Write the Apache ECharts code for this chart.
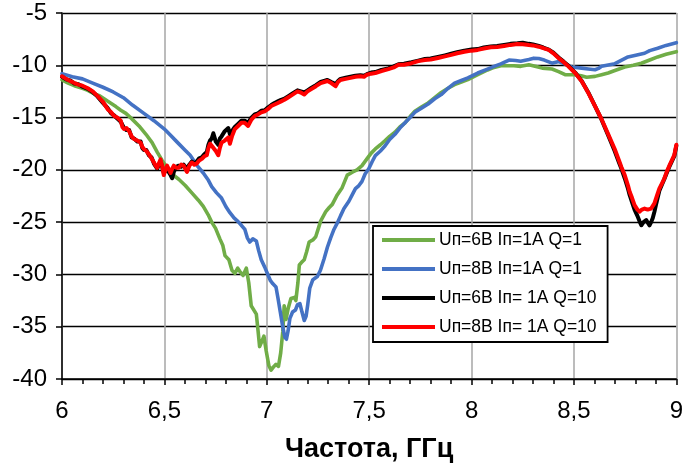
<!DOCTYPE html>
<html>
<head>
<meta charset="utf-8">
<script src="https://cdn.jsdelivr.net/npm/echarts@6/dist/echarts.min.js"></script>
<style>html,body{margin:0;padding:0;background:#fff}#c{width:686px;height:468px}</style>
</head>
<body>
<div id="c"></div>
<script>
const seriesNames = ['Uп=6В Iп=1А Q=1', 'Uп=8В Iп=1А Q=1', 'Uп=6В Iп= 1А Q=10', 'Uп=8В Iп= 1А Q=10'];
const xTicks = [6, 6.5, 7, 7.5, 8, 8.5, 9];
const yTicks = [-40, -35, -30, -25, -20, -15, -10, -5];

const greenData = [[6.0,-11.4],[6.03,-11.7],[6.06,-11.95],[6.1,-12.2],[6.126,-12.4],[6.16,-12.75],[6.183,-12.9],[6.22,-13.4],[6.263,-13.95],[6.287,-14.3],[6.312,-14.6],[6.34,-15.1],[6.376,-15.8],[6.41,-16.6],[6.44,-17.4],[6.465,-18.3],[6.489,-19.1],[6.51,-19.7],[6.537,-20.4],[6.57,-20.9],[6.602,-21.5],[6.634,-22.2],[6.666,-22.9],[6.69,-23.5],[6.714,-24.3],[6.731,-25.0],[6.75,-25.6],[6.771,-26.6],[6.785,-27.2],[6.796,-28.2],[6.815,-28.6],[6.83,-29.6],[6.844,-29.9],[6.858,-29.4],[6.868,-29.7],[6.884,-30.1],[6.9,-29.4],[6.912,-30.8],[6.924,-33.0],[6.949,-33.8],[6.958,-35.5],[6.965,-36.9],[6.976,-36.4],[6.986,-35.9],[6.997,-37.3],[7.01,-38.7],[7.021,-39.15],[7.035,-38.8],[7.045,-38.6],[7.057,-38.8],[7.068,-37.5],[7.078,-35.5],[7.085,-33.0],[7.094,-34.3],[7.105,-33.2],[7.118,-32.3],[7.135,-32.2],[7.142,-32.5],[7.152,-30.8],[7.159,-29.1],[7.172,-28.8],[7.183,-28.6],[7.195,-27.8],[7.207,-26.9],[7.225,-26.7],[7.239,-26.4],[7.252,-25.6],[7.263,-24.9],[7.288,-24.0],[7.305,-23.6],[7.32,-23.3],[7.344,-22.4],[7.368,-21.7],[7.393,-20.5],[7.42,-20.2],[7.441,-20.0],[7.465,-19.6],[7.489,-18.95],[7.51,-18.4],[7.53,-18.0],[7.555,-17.6],[7.578,-17.2],[7.6,-16.8],[7.626,-16.4],[7.65,-15.9],[7.675,-15.5],[7.7,-14.9],[7.723,-14.4],[7.755,-14.0],[7.788,-13.6],[7.82,-13.1],[7.852,-12.6],[7.885,-12.2],[7.917,-11.85],[7.95,-11.6],[7.982,-11.37],[8.03,-10.9],[8.078,-10.45],[8.11,-10.2],[8.143,-10.05],[8.175,-10.05],[8.207,-10.05],[8.24,-10.1],[8.28,-9.95],[8.31,-10.1],[8.345,-10.27],[8.393,-10.36],[8.425,-10.6],[8.457,-10.9],[8.506,-10.9],[8.535,-11.0],[8.562,-11.15],[8.603,-11.06],[8.635,-10.9],[8.667,-10.74],[8.7,-10.5],[8.748,-10.17],[8.79,-10.0],[8.829,-9.8],[8.87,-9.5],[8.909,-9.2],[8.95,-8.95],[9.0,-8.7]];

const blueData = [[6.0,-10.8],[6.05,-11.1],[6.1,-11.3],[6.15,-11.7],[6.2,-12.1],[6.25,-12.55],[6.3,-13.1],[6.344,-13.8],[6.4,-14.6],[6.449,-15.3],[6.5,-16.1],[6.53,-16.7],[6.56,-17.3],[6.6,-18.1],[6.626,-18.6],[6.66,-19.6],[6.69,-20.3],[6.715,-21.0],[6.731,-21.6],[6.755,-22.2],[6.779,-22.7],[6.8,-23.5],[6.82,-24.1],[6.84,-24.6],[6.86,-24.95],[6.876,-25.3],[6.893,-25.7],[6.905,-26.5],[6.917,-26.9],[6.932,-26.6],[6.949,-26.8],[6.96,-27.7],[6.973,-28.6],[6.99,-29.3],[7.005,-30.0],[7.018,-30.6],[7.03,-30.9],[7.045,-31.2],[7.055,-32.3],[7.066,-33.6],[7.078,-35.0],[7.088,-36.0],[7.096,-36.2],[7.104,-35.4],[7.113,-34.2],[7.126,-33.6],[7.14,-33.4],[7.15,-32.9],[7.162,-32.8],[7.172,-33.6],[7.183,-34.4],[7.192,-34.0],[7.2,-32.9],[7.21,-31.3],[7.225,-30.5],[7.247,-30.2],[7.262,-29.6],[7.28,-28.5],[7.296,-27.4],[7.312,-26.5],[7.328,-25.7],[7.344,-25.1],[7.36,-24.4],[7.377,-23.7],[7.401,-23.0],[7.417,-22.4],[7.433,-21.8],[7.45,-21.5],[7.465,-21.1],[7.48,-20.4],[7.498,-19.9],[7.515,-19.2],[7.53,-18.64],[7.555,-18.2],[7.578,-17.7],[7.6,-17.1],[7.626,-16.6],[7.65,-16.0],[7.675,-15.5],[7.7,-15.0],[7.723,-14.5],[7.755,-14.1],[7.788,-13.7],[7.82,-13.2],[7.852,-12.8],[7.885,-12.2],[7.917,-11.7],[7.95,-11.45],[7.982,-11.2],[8.03,-10.74],[8.078,-10.36],[8.11,-10.1],[8.143,-9.86],[8.183,-9.5],[8.215,-9.55],[8.24,-9.62],[8.28,-9.45],[8.304,-9.32],[8.328,-9.35],[8.355,-9.5],[8.393,-9.8],[8.425,-9.64],[8.46,-9.9],[8.49,-10.17],[8.538,-10.27],[8.57,-10.35],[8.603,-10.43],[8.62,-10.3],[8.635,-10.1],[8.7,-9.85],[8.764,-9.2],[8.845,-8.85],[8.87,-8.6],[8.909,-8.37],[8.95,-8.1],[9.0,-7.84]];

const blackData = [[6.0,-11.1],[6.02,-11.35],[6.04,-11.45],[6.061,-11.75],[6.08,-11.8],[6.1,-12.05],[6.126,-12.25],[6.15,-12.55],[6.174,-13.0],[6.2,-13.6],[6.223,-14.1],[6.24,-14.6],[6.255,-14.8],[6.27,-15.1],[6.287,-15.4],[6.295,-15.7],[6.303,-16.0],[6.315,-16.2],[6.328,-16.2],[6.34,-16.9],[6.352,-17.0],[6.368,-17.3],[6.384,-17.3],[6.392,-17.9],[6.4,-18.1],[6.412,-18.1],[6.424,-18.6],[6.437,-18.8],[6.449,-19.4],[6.457,-19.5],[6.465,-19.9],[6.473,-19.5],[6.481,-19.2],[6.489,-19.7],[6.497,-20.3],[6.505,-20.1],[6.513,-19.8],[6.521,-20.2],[6.53,-20.5],[6.538,-20.8],[6.546,-20.2],[6.558,-19.7],[6.57,-19.6],[6.582,-19.7],[6.594,-19.5],[6.602,-19.7],[6.61,-19.9],[6.622,-19.5],[6.634,-19.2],[6.646,-19.4],[6.658,-19.2],[6.67,-18.9],[6.683,-18.8],[6.695,-18.5],[6.707,-18.3],[6.715,-17.6],[6.723,-17.2],[6.731,-17.0],[6.739,-16.5],[6.751,-17.3],[6.763,-17.6],[6.771,-17.0],[6.779,-16.8],[6.795,-16.3],[6.812,-16.0],[6.82,-16.6],[6.83,-16.3],[6.844,-15.9],[6.86,-15.6],[6.876,-15.3],[6.892,-15.3],[6.909,-15.5],[6.925,-15.0],[6.941,-14.7],[6.957,-14.6],[6.973,-14.35],[6.99,-14.3],[7.005,-14.05],[7.022,-13.8],[7.038,-13.6],[7.054,-13.45],[7.07,-13.3],[7.086,-13.2],[7.102,-13.0],[7.126,-12.7],[7.15,-12.4],[7.166,-12.5],[7.183,-12.6],[7.199,-12.4],[7.215,-12.2],[7.24,-11.9],[7.263,-11.6],[7.28,-11.5],[7.296,-11.4],[7.315,-11.6],[7.336,-11.8],[7.348,-11.5],[7.36,-11.3],[7.385,-11.2],[7.409,-11.1],[7.433,-11.0],[7.457,-10.95],[7.475,-11.0],[7.489,-10.85],[7.51,-10.7],[7.53,-10.65],[7.56,-10.45],[7.594,-10.3],[7.62,-10.1],[7.643,-9.9],[7.67,-9.85],[7.707,-9.7],[7.74,-9.55],[7.772,-9.4],[7.8,-9.35],[7.836,-9.2],[7.87,-9.05],[7.901,-8.9],[7.93,-8.75],[7.965,-8.6],[8.0,-8.5],[8.03,-8.45],[8.06,-8.3],[8.094,-8.2],[8.125,-8.15],[8.159,-8.05],[8.19,-7.95],[8.224,-7.9],[8.25,-7.85],[8.28,-7.95],[8.3,-8.0],[8.328,-8.15],[8.35,-8.3],[8.377,-8.5],[8.4,-8.8],[8.425,-9.25],[8.45,-9.65],[8.473,-10.05],[8.506,-10.7],[8.538,-11.5],[8.57,-12.6],[8.603,-13.9],[8.635,-15.2],[8.667,-16.7],[8.699,-18.2],[8.72,-19.3],[8.732,-19.9],[8.748,-20.8],[8.764,-21.8],[8.772,-22.4],[8.784,-23.1],[8.796,-23.8],[8.81,-24.4],[8.82,-24.9],[8.829,-25.3],[8.84,-25.0],[8.853,-24.8],[8.862,-25.1],[8.869,-25.3],[8.877,-25.0],[8.885,-24.6],[8.893,-24.0],[8.9,-23.4],[8.917,-22.0],[8.93,-21.4],[8.941,-20.9],[8.955,-20.2],[8.966,-19.7],[8.978,-19.2],[8.99,-18.7],[9.0,-17.7]];

const redData = [[6.0,-11.05],[6.02,-11.3],[6.04,-11.5],[6.061,-11.7],[6.08,-11.85],[6.1,-11.95],[6.126,-12.2],[6.15,-12.5],[6.174,-12.95],[6.2,-13.5],[6.223,-14.2],[6.24,-14.5],[6.255,-14.85],[6.27,-15.0],[6.287,-15.3],[6.295,-15.9],[6.303,-16.1],[6.315,-16.0],[6.328,-16.3],[6.34,-16.8],[6.352,-17.05],[6.368,-17.2],[6.384,-17.4],[6.392,-17.8],[6.4,-18.0],[6.412,-18.2],[6.424,-18.5],[6.437,-18.9],[6.449,-19.3],[6.457,-19.6],[6.465,-19.8],[6.473,-19.4],[6.481,-19.0],[6.489,-19.6],[6.497,-20.5],[6.505,-20.0],[6.513,-19.6],[6.521,-19.9],[6.53,-20.3],[6.538,-19.9],[6.546,-19.6],[6.558,-19.8],[6.57,-19.8],[6.582,-19.5],[6.594,-19.6],[6.602,-19.9],[6.61,-20.2],[6.622,-19.6],[6.634,-19.3],[6.646,-19.5],[6.658,-19.4],[6.67,-19.1],[6.683,-18.95],[6.695,-18.7],[6.707,-18.6],[6.715,-17.9],[6.723,-17.5],[6.731,-17.7],[6.739,-17.7],[6.751,-18.2],[6.763,-18.6],[6.771,-17.9],[6.779,-17.4],[6.795,-17.2],[6.812,-16.9],[6.82,-17.5],[6.83,-16.8],[6.844,-16.1],[6.86,-15.8],[6.876,-15.5],[6.892,-15.5],[6.909,-15.8],[6.925,-15.2],[6.941,-14.85],[6.957,-14.7],[6.973,-14.5],[6.99,-14.4],[7.005,-14.2],[7.022,-13.9],[7.038,-13.75],[7.054,-13.6],[7.07,-13.45],[7.086,-13.3],[7.102,-13.1],[7.126,-12.8],[7.15,-12.5],[7.166,-12.6],[7.183,-12.8],[7.199,-12.5],[7.215,-12.3],[7.24,-12.0],[7.263,-11.7],[7.28,-11.6],[7.296,-11.5],[7.315,-11.7],[7.336,-12.0],[7.348,-11.6],[7.36,-11.4],[7.385,-11.3],[7.409,-11.2],[7.433,-11.1],[7.457,-11.05],[7.475,-11.1],[7.489,-10.9],[7.51,-10.8],[7.53,-10.74],[7.56,-10.55],[7.594,-10.36],[7.62,-10.2],[7.643,-9.95],[7.67,-9.95],[7.707,-9.8],[7.74,-9.6],[7.772,-9.5],[7.8,-9.45],[7.836,-9.3],[7.87,-9.15],[7.901,-9.0],[7.93,-8.85],[7.965,-8.7],[8.0,-8.6],[8.03,-8.53],[8.06,-8.4],[8.094,-8.28],[8.125,-8.25],[8.159,-8.15],[8.19,-8.05],[8.224,-7.96],[8.25,-7.98],[8.28,-8.06],[8.3,-8.1],[8.328,-8.22],[8.35,-8.35],[8.377,-8.53],[8.4,-8.85],[8.425,-9.32],[8.45,-9.7],[8.473,-10.1],[8.506,-10.74],[8.538,-11.53],[8.57,-12.63],[8.603,-13.9],[8.635,-15.16],[8.667,-16.58],[8.699,-18.0],[8.72,-19.1],[8.732,-19.74],[8.748,-20.5],[8.764,-21.5],[8.772,-22.1],[8.784,-22.7],[8.796,-23.37],[8.81,-23.8],[8.82,-24.0],[8.832,-23.8],[8.845,-23.7],[8.86,-23.8],[8.877,-23.7],[8.893,-23.2],[8.905,-22.5],[8.917,-21.8],[8.93,-21.3],[8.941,-20.85],[8.955,-20.1],[8.966,-19.6],[8.978,-19.1],[8.99,-18.6],[9.0,-17.6]];

const colors = ['#70AD47', '#4472C4', '#000000', '#FF0000'];
const datasets = [greenData, blueData, blackData, redData];
const widths = [3.6, 3.6, 4, 4];

const narrow = "'Liberation Sans Narrow', 'Arial Narrow', 'Liberation Sans', Arial, sans-serif";
const chart = echarts.init(document.getElementById('c'), null, {renderer: 'canvas'});
chart.setOption({
  animation: false,
  backgroundColor: '#ffffff',
  grid: {left: 62, right: 4, top: 13, bottom: 86, containLabel: false},
  legend: {
    data: seriesNames.map(n => ({name: n, icon: 'rect'})),
    orient: 'vertical',
    left: 373, top: 226,
    itemWidth: 53, itemHeight: 4, itemGap: 9,
    padding: [4, 11, 5, 9],
    borderColor: '#000', borderWidth: 1.8,
    backgroundColor: '#fff',
    textStyle: {fontFamily: "'Liberation Sans', Arial, sans-serif", fontSize: 17.5, color: '#000', lineHeight: 20, padding: [0,0,0,-1]}
  },
  xAxis: {
    type: 'value', min: 6, max: 9, interval: 0.5,
    name: 'Частота, ГГц', nameLocation: 'middle', nameGap: 57,
    nameTextStyle: {fontFamily: narrow, fontWeight: 'bold', fontSize: 27, color: '#000'},
    axisLine: {show: true, onZero: false, lineStyle: {color: '#000', width: 1.5}},
    axisTick: {show: true, inside: false, length: 6, lineStyle: {color: '#000', width: 1.5}},
    minorTick: {show: true, splitNumber: 5, length: 5, lineStyle: {color: '#000', width: 1.5}},
    axisLabel: {margin: 20, fontFamily: narrow, fontSize: 24, color: '#000',
      customValues: xTicks,
      formatter: v => String(v).replace('.', ',')},
    splitLine: {show: true, lineStyle: {color: '#a6a6a6', width: 1.5}}
  },
  yAxis: {
    type: 'value', min: -40, max: -5, interval: 5,
    axisLine: {show: true, onZero: false, lineStyle: {color: '#000', width: 1.5}},
    axisTick: {show: true, inside: false, length: 6, lineStyle: {color: '#000', width: 1.5}},
    axisLabel: {margin: 15, fontFamily: narrow, fontSize: 24, color: '#000'},
    splitLine: {show: true, lineStyle: {color: '#000', width: 1.4}}
  },
  series: datasets.map((d, i) => ({
    name: seriesNames[i], type: 'line', data: d,
    showSymbol: false, symbol: 'none', smooth: false,
    color: colors[i],
    lineStyle: {color: colors[i], width: widths[i], join: 'round', cap: 'round'},
    itemStyle: {color: colors[i]},
    z: 2 + i
  }))
});
</script>
</body>
</html>
